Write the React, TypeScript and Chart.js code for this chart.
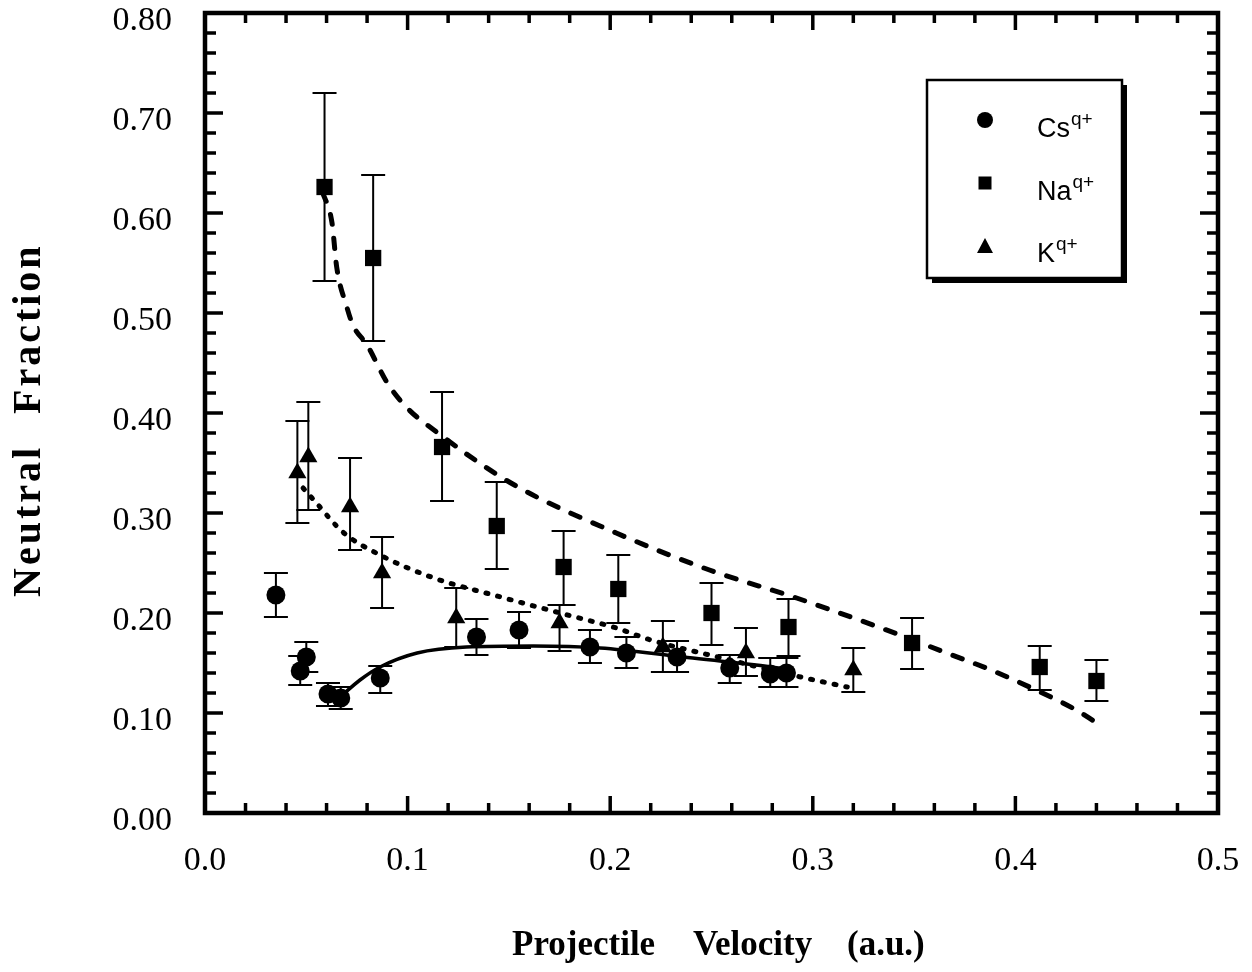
import React, { useEffect, useRef } from "react";
import { Chart, registerables } from "chart.js";
Chart.register(...registerables);

// ---- Data ----
const csV = [0.035, 0.047, 0.05, 0.0607, 0.067, 0.0865, 0.134, 0.155, 0.19, 0.208, 0.233, 0.259, 0.279, 0.287];
const csF = [0.218, 0.142, 0.156, 0.119, 0.115, 0.135, 0.176, 0.183, 0.166, 0.16, 0.156, 0.145, 0.139, 0.14];
const csHi = [0.24, 0.157, 0.171, 0.13, 0.126, 0.147, 0.194, 0.201, 0.183, 0.176, 0.172, 0.158, 0.155, 0.155];
const csLo = [0.196, 0.128, 0.141, 0.107, 0.104, 0.12, 0.158, 0.165, 0.15, 0.145, 0.141, 0.13, 0.126, 0.126];

const naV = [0.059, 0.083, 0.117, 0.144, 0.177, 0.204, 0.25, 0.288, 0.349, 0.412, 0.44];
const naF = [0.626, 0.555, 0.366, 0.287, 0.246, 0.224, 0.2, 0.186, 0.17, 0.146, 0.132];
const naHi = [0.72, 0.638, 0.421, 0.331, 0.282, 0.258, 0.23, 0.214, 0.195, 0.167, 0.153];
const naLo = [0.532, 0.472, 0.312, 0.244, 0.208, 0.19, 0.168, 0.157, 0.144, 0.123, 0.112];

const kV = [0.0456, 0.051, 0.0716, 0.0874, 0.124, 0.175, 0.226, 0.267, 0.32];
const kF = [0.34, 0.356, 0.306, 0.24, 0.195, 0.19, 0.166, 0.16, 0.143];
const kHi = [0.392, 0.411, 0.355, 0.276, 0.225, 0.208, 0.192, 0.185, 0.165];
const kLo = [0.29, 0.303, 0.263, 0.205, 0.166, 0.162, 0.141, 0.137, 0.121];

// fitted curves
const naFitV = [0.058, 0.0627, 0.065, 0.07, 0.073, 0.08, 0.09, 0.0998, 0.113, 0.151, 0.203, 0.249, 0.292, 0.343, 0.366, 0.388, 0.408, 0.43, 0.4395];
const naFitF = [0.621, 0.59, 0.546, 0.506, 0.488, 0.468, 0.43, 0.405, 0.383, 0.33, 0.28, 0.243, 0.215, 0.178, 0.16, 0.143, 0.125, 0.103, 0.091];
const kFitV = [0.0484, 0.055, 0.068, 0.0864, 0.113, 0.146, 0.179, 0.203, 0.22, 0.253, 0.294, 0.317];
const kFitF = [0.325, 0.31, 0.281, 0.258, 0.235, 0.216, 0.198, 0.185, 0.173, 0.156, 0.136, 0.126];
const csFitV = [0.0667, 0.0765, 0.0864, 0.1047, 0.129, 0.162, 0.195, 0.236, 0.272, 0.29];
const csFitF = [0.116, 0.133, 0.146, 0.16, 0.166, 0.167, 0.165, 0.156, 0.148, 0.143];

const xTicks = [0, 0.1, 0.2, 0.3, 0.4, 0.5];
const yTicks = [0, 0.1, 0.2, 0.3, 0.4, 0.5, 0.6, 0.7, 0.8];
const legendNames = ["Cs", "Na", "K"];
const legendSup = "q+";
const xTitleWords = ["Projectile", "Velocity", "(a.u.)"];
const yTitleWords = ["Neutral", "Fraction"];

const pts = (xs: number[], ys: number[]) => xs.map((x, i) => ({ x, y: ys[i] }));

const errorSets = [
  { v: csV, hi: csHi, lo: csLo },
  { v: naV, hi: naHi, lo: naLo },
  { v: kV, hi: kHi, lo: kLo },
];

const SERIF = '"Liberation Serif", "Times New Roman", serif';

const errorBarPlugin = {
  id: "errorBars",
  beforeDatasetsDraw(chart: any) {
    const { ctx, scales } = chart;
    const xs = scales.x, ys = scales.y;
    ctx.save();
    ctx.strokeStyle = "#000";
    ctx.lineWidth = 2;
    for (const s of errorSets) {
      s.v.forEach((v, i) => {
        const px = xs.getPixelForValue(v);
        const top = ys.getPixelForValue(s.hi[i]);
        const bot = ys.getPixelForValue(s.lo[i]);
        ctx.beginPath();
        ctx.moveTo(px, top);
        ctx.lineTo(px, bot);
        ctx.moveTo(px - 12, top);
        ctx.lineTo(px + 12, top);
        ctx.moveTo(px - 12, bot);
        ctx.lineTo(px + 12, bot);
        ctx.stroke();
      });
    }
    ctx.restore();
  },
};

const framePlugin = {
  id: "frame",
  afterDraw(chart: any) {
    const { ctx, chartArea: a, scales } = chart;
    const xs = scales.x, ys = scales.y;
    ctx.save();
    ctx.strokeStyle = "#000";
    ctx.lineCap = "butt";
    ctx.lineWidth = 3.5;
    for (let k = 1; k < 25; k++) {
      const px = xs.getPixelForValue(k * 0.02);
      const len = k % 5 === 0 ? 17 : 10;
      ctx.beginPath();
      ctx.moveTo(px, a.bottom);
      ctx.lineTo(px, a.bottom - len);
      ctx.moveTo(px, a.top);
      ctx.lineTo(px, a.top + len);
      ctx.stroke();
    }
    for (let k = 1; k < 40; k++) {
      const py = ys.getPixelForValue(k * 0.02);
      const len = k % 5 === 0 ? 18 : 11;
      ctx.beginPath();
      ctx.moveTo(a.left, py);
      ctx.lineTo(a.left + len, py);
      ctx.moveTo(a.right, py);
      ctx.lineTo(a.right - len, py);
      ctx.stroke();
    }
    ctx.lineWidth = 4.5;
    ctx.strokeRect(a.left, a.top, a.right - a.left, a.bottom - a.top);

    // axis titles
    ctx.fillStyle = "#000";
    ctx.textBaseline = "alphabetic";
    ctx.textAlign = "left";
    ctx.font = `bold 35px ${SERIF}`;
    const xStarts = [512, 693, 847];
    xTitleWords.forEach((w, i) => ctx.fillText(w, xStarts[i], 955));
    ctx.save();
    ctx.translate(40, 597);
    ctx.rotate(-Math.PI / 2);
    ctx.font = `bold 40px ${SERIF}`;
    try { (ctx as any).letterSpacing = "3px"; } catch (e) { /* ignore */ }
    const yStarts = [0, 183];
    yTitleWords.forEach((w, i) => ctx.fillText(w, yStarts[i], 0));
    ctx.restore();
    ctx.restore();
  },
};

const legendPlugin = {
  id: "customLegend",
  afterDraw(chart: any) {
    const { ctx } = chart;
    const bx = 927, by = 80, bw = 195, bh = 198;
    ctx.save();
    ctx.fillStyle = "#000";
    ctx.fillRect(bx + 5, by + 5, bw, bh);
    ctx.fillStyle = "#fff";
    ctx.fillRect(bx, by, bw, bh);
    ctx.strokeStyle = "#000";
    ctx.lineWidth = 2.5;
    ctx.strokeRect(bx, by, bw, bh);
    const mx = 985;
    const rows = [120, 183, 247];
    ctx.fillStyle = "#000";
    ctx.beginPath();
    ctx.arc(mx, rows[0], 8, 0, Math.PI * 2);
    ctx.fill();
    ctx.fillRect(mx - 6.5, rows[1] - 6.5, 13, 13);
    ctx.beginPath();
    ctx.moveTo(mx, rows[2] - 9);
    ctx.lineTo(mx + 8, rows[2] + 6);
    ctx.lineTo(mx - 8, rows[2] + 6);
    ctx.closePath();
    ctx.fill();
    const tx = 1037;
    const baselines = [137, 200, 262];
    ctx.textBaseline = "alphabetic";
    ctx.textAlign = "left";
    legendNames.forEach((n, i) => {
      ctx.font = '27px "Liberation Sans", Arial, sans-serif';
      ctx.fillText(n, tx, baselines[i]);
      const w = ctx.measureText(n).width;
      ctx.font = '19px "Liberation Sans", Arial, sans-serif';
      ctx.fillText(legendSup, tx + w + 1, baselines[i] - 12);
    });
    ctx.restore();
  },
};

const zeroPad = (s: any) => {
  s.paddingLeft = 0;
  s.paddingRight = 0;
  s.paddingTop = 0;
  s.paddingBottom = 0;
};

export default function App() {
  const ref = useRef<HTMLCanvasElement | null>(null);
  useEffect(() => {
    if (!ref.current) return;
    const chart = new Chart(ref.current, {
      type: "scatter",
      data: {
        datasets: [
          {
            label: "Na fit",
            data: pts(naFitV, naFitF),
            showLine: true,
            borderColor: "#000",
            borderWidth: 5,
            borderDash: [10, 14],
            borderCapStyle: "round",
            pointRadius: 0,
            cubicInterpolationMode: "monotone",
          } as any,
          {
            label: "K fit",
            data: pts(kFitV, kFitF),
            showLine: true,
            borderColor: "#000",
            borderWidth: 5,
            borderDash: [2, 10],
            borderCapStyle: "round",
            pointRadius: 0,
            cubicInterpolationMode: "monotone",
          } as any,
          {
            label: "Cs fit",
            data: pts(csFitV, csFitF),
            showLine: true,
            borderColor: "#000",
            borderWidth: 3.5,
            pointRadius: 0,
            cubicInterpolationMode: "monotone",
          } as any,
          {
            label: "Cs",
            data: pts(csV, csF),
            pointStyle: "circle",
            pointRadius: 9.5,
            backgroundColor: "#000",
            borderColor: "#000",
            borderWidth: 0,
          },
          {
            label: "Na",
            data: pts(naV, naF),
            pointStyle: "rect",
            pointRadius: 11.5,
            backgroundColor: "#000",
            borderColor: "#000",
            borderWidth: 0,
          },
          {
            label: "K",
            data: pts(kV, kF),
            pointStyle: "triangle",
            pointRadius: 10.5,
            backgroundColor: "#000",
            borderColor: "#000",
            borderWidth: 0,
          },
        ],
      },
      options: {
        animation: false,
        responsive: true,
        maintainAspectRatio: false,
        layout: { padding: { left: 0, top: 13, right: 34, bottom: 0 } },
        plugins: { legend: { display: false }, tooltip: { enabled: false } },
        scales: {
          x: {
            type: "linear",
            min: 0,
            max: 0.5,
            afterFit: (s: any) => { s.height = 159; zeroPad(s); },
            afterBuildTicks: (s: any) => { s.ticks = xTicks.map((v) => ({ value: v })); },
            grid: { display: false, drawTicks: false },
            border: { display: false },
            ticks: {
              color: "#000",
              padding: 28,
              maxRotation: 0,
              font: { family: SERIF, size: 34 },
              callback: (v: any) => Number(v).toFixed(1),
            },
            title: { display: false },
          },
          y: {
            type: "linear",
            min: 0,
            max: 0.8,
            afterFit: (s: any) => { s.width = 205; zeroPad(s); },
            afterBuildTicks: (s: any) => { s.ticks = yTicks.map((v) => ({ value: v })); },
            grid: { display: false, drawTicks: false },
            border: { display: false },
            ticks: {
              color: "#000",
              padding: 33,
              labelOffset: 8,
              font: { family: SERIF, size: 34 },
              callback: (v: any) => Number(v).toFixed(2),
            },
            title: { display: false },
          },
        },
      } as any,
      plugins: [errorBarPlugin, framePlugin, legendPlugin],
    });
    return () => chart.destroy();
  }, []);
  return (
    <div style={{ position: "absolute", left: 0, top: 0, width: 1252, height: 972, background: "#fff" }}>
      <canvas ref={ref} />
    </div>
  );
}
